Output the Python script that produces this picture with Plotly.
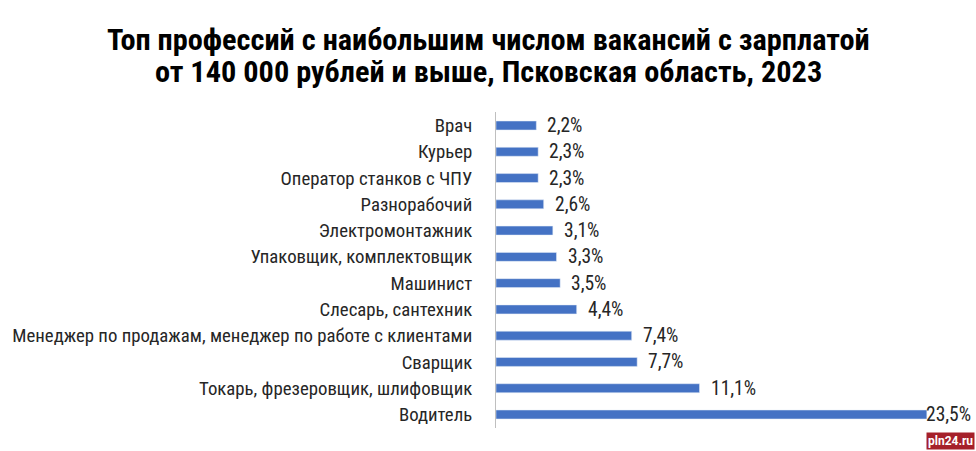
import plotly.graph_objects as go

categories = ["Врач", "Курьер", "Оператор станков с ЧПУ", "Разнорабочий", "Электромонтажник",
              "Упаковщик, комплектовщик", "Машинист", "Слесарь, сантехник",
              "Менеджер по продажам, менеджер по работе с клиентами", "Сварщик",
              "Токарь, фрезеровщик, шлифовщик", "Водитель"]
values = [2.2, 2.3, 2.3, 2.6, 3.1, 3.3, 3.5, 4.4, 7.4, 7.7, 11.1, 23.5]
labels = [f"{v:.1f}".replace(".", ",") + "%" for v in values]
title_lines = ["Топ профессий с наибольшим числом вакансий с зарплатой",
               "от 140 000 рублей и выше, Псковская область, 2023"]

FONT = "Liberation Sans Narrow, Arial Narrow, Roboto Condensed, sans-serif"
W, H, L, R, T, B = 976, 451, 496, 18, 112, 23
XMAX = 25.2

fig = go.Figure(go.Bar(
    x=values, y=categories, orientation="h",
    marker=dict(color="#4472C4"),
    width=0.34, hoverinfo="x+y",
))

annotations = []
# data labels (pushed left if they would leave the chart area, as in the original)
for v, c, t in zip(values, categories, labels):
    shift = 9 if v < 0.85 * XMAX else -3
    annotations.append(dict(
        text=t, x=v, y=c, xref="x", yref="y", xanchor="left", yanchor="middle",
        xshift=shift, showarrow=False,
        font=dict(family=FONT, size=19.5, color="#262626"),
    ))

plot_w = W - L - R
plot_h = H - T - B
for i, line in enumerate(title_lines):
    px_y = 39 + 32 * i
    annotations.append(dict(
        text="<b>" + line + "</b>",
        x=(W / 2 - L) / plot_w, xref="paper", xanchor="center",
        y=1 + (T - px_y) / plot_h, yref="paper", yanchor="middle", showarrow=False,
        font=dict(family=FONT, size=30.3, color="#000000"),
    ))

annotations.append(dict(
    text="<b>pln24.ru</b>", x=1, y=0, xref="paper", yref="paper",
    xanchor="right", yanchor="bottom", xshift=R - 1, yshift=-B + 1,
    showarrow=False, bgcolor="#A5202A", font=dict(family="Roboto", size=12, color="white"),
    borderpad=1,
))

fig.update_layout(
    width=W, height=H,
    paper_bgcolor="white", plot_bgcolor="white",
    margin=dict(l=L, r=R, t=T, b=B),
    xaxis=dict(range=[0, XMAX], visible=False, showgrid=False, zeroline=False),
    yaxis=dict(
        autorange="reversed", showline=True, linecolor="#BFBFBF", linewidth=1,
        ticks="", ticklabelstandoff=19, automargin=False,
        tickfont=dict(family=FONT, size=18.8, color="#262626"),
        showgrid=False,
    ),
    showlegend=False,
    annotations=annotations,
)

fig.write_html("out.html")
